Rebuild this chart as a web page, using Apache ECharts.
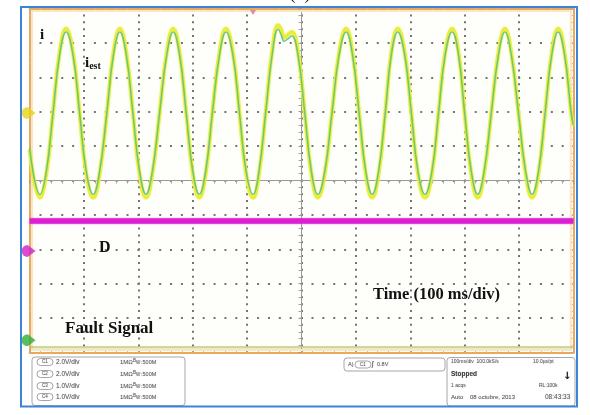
<!DOCTYPE html>
<html>
<head>
<meta charset="utf-8">
<script src="https://cdn.jsdelivr.net/npm/echarts/dist/echarts.min.js"></script>
<style>
  html, body { margin: 0; padding: 0; background: #ffffff; }
  #chart { width: 590px; height: 415px; }
</style>
</head>
<body>
<div id="chart"></div>
<script>
// Oscilloscope capture: measured current i, estimated current i_est,
// D signal and fault signal. Time in ms (trigger at 0), amplitude in divisions.

// Sample times of the current traces (ms)
const timeMs = [
  -500, -481, -469, -457, -445, -433, -420, -408, -396, -383,
  -371, -358, -346, -334, -322, -310, -298, -286, -274, -261,
  -248, -236, -224, -212, -200, -188, -176, -164, -151, -139,
  -126, -114, -102, -89, -78, -66, -54, -43, -37, -32,
  -25, -18, -6, 6, 18, 30, 43, 56, 69, 82,
  94, 106, 118, 130, 142, 154, 165, 177, 190, 202,
  214, 227, 240, 252, 264, 277, 289, 300, 312, 324,
  336, 349, 362, 374, 386, 399, 412, 424, 436, 448,
  460, 472, 484, 496, 500
];

// Measured current i (divisions)
const iValues = [
  0.90, -0.50, 0.22, 1.96, 3.70, 4.42, 3.70, 1.96, 0.22, -0.50,
  0.22, 1.96, 3.70, 4.42, 3.70, 1.96, 0.22, -0.50, 0.22, 1.96,
  3.70, 4.42, 3.70, 1.96, 0.22, -0.50, 0.22, 1.96, 3.70, 4.42,
  3.70, 1.96, 0.22, -0.50, 0.22, 1.96, 3.75, 4.52, 4.38, 4.15,
  4.24, 4.32, 3.68, 1.96, 0.22, -0.50, 0.22, 1.96, 3.70, 4.42,
  3.70, 1.96, 0.22, -0.50, 0.22, 1.96, 3.70, 4.42, 3.70, 1.96,
  0.22, -0.50, 0.22, 1.96, 3.70, 4.42, 3.70, 1.96, 0.22, -0.50,
  0.22, 1.96, 3.70, 4.42, 3.70, 1.96, 0.22, -0.50, 0.22, 1.96,
  3.70, 4.42, 3.70, 1.96, 1.60
];

// Estimated current i_est (divisions)
const iEstValues = [
  0.95, -0.40, 0.29, 1.96, 3.63, 4.32, 3.63, 1.96, 0.29, -0.40,
  0.29, 1.96, 3.63, 4.32, 3.63, 1.96, 0.29, -0.40, 0.29, 1.96,
  3.63, 4.32, 3.63, 1.96, 0.29, -0.40, 0.29, 1.96, 3.63, 4.32,
  3.63, 1.96, 0.29, -0.40, 0.29, 1.96, 3.65, 4.40, 4.22, 4.05,
  4.12, 4.20, 3.60, 1.96, 0.29, -0.40, 0.29, 1.96, 3.63, 4.32,
  3.63, 1.96, 0.29, -0.40, 0.29, 1.96, 3.63, 4.32, 3.63, 1.96,
  0.29, -0.40, 0.29, 1.96, 3.63, 4.32, 3.63, 1.96, 0.29, -0.40,
  0.29, 1.96, 3.63, 4.32, 3.63, 1.96, 0.29, -0.40, 0.29, 1.96,
  3.63, 4.32, 3.63, 1.96, 1.62
];

// Flat traces: D signal and fault signal
const flatTimeMs = [-500, 500];
const dValues = [-1.18, -1.18];
const faultValues = [-4.85, -4.85];

// Channel ground-reference markers on the left edge
const markerLevels = [1.96, -2.05, -4.65];
const markerColors = ['#e9d21c', '#d21fc8', '#2eae36'];

// Channel setup readouts
const chanNames = ['C1', 'C2', 'C3', 'C4'];
const chanScales = ['2.0V/div', '2.0V/div', '1.0V/div', '1.0V/div'];

const pairs = (xs, ys) => xs.map((x, k) => [x, ys[k]]);

const G = { left: 29.6, top: 8.6, width: 543.8, height: 343.8 };
const frameColor = '#eba858';

const chart = echarts.init(document.getElementById('chart'), null, { renderer: 'canvas' });

function frameAxis(pos, isX) {
  const base = {
    gridIndex: 1, type: 'value', position: pos,
    axisLine: { show: true, onZero: false, lineStyle: { color: frameColor, width: 2 } },
    axisTick: { show: true, inside: true, length: 3.5, lineStyle: { color: '#b9b09c', width: 1 } },
    minorTick: { show: true, splitNumber: 5, length: 2.5, lineStyle: { color: '#c8c0ac', width: 1 } },
    axisLabel: { show: false }, splitLine: { show: false }
  };
  if (isX) { base.min = -500; base.max = 500; base.interval = 100; }
  else { base.min = -5; base.max = 5; base.interval = 1; }
  return base;
}

// Bottom readout panel
const panel = [];
const txt = (x, y, s, size, extra) => ({
  type: 'text', x: x, y: y, z: 20,
  style: Object.assign({ text: s, fill: '#5a5a5a', font: size + 'px "Liberation Sans", Arial, sans-serif',
    verticalAlign: 'middle', align: 'left', textShadowColor: 'rgba(120,120,120,0.5)', textShadowBlur: 1 }, extra || {})
});
const box = (x, y, w, h, r) => ({
  type: 'rect', z: 19, shape: { x: x, y: y, width: w, height: h, r: r },
  style: { fill: '#ffffff', stroke: '#a6a6a6', lineWidth: 1 }
});
const pill = (x, y, label) => [
  { type: 'rect', z: 20, shape: { x: x, y: y - 3.5, width: 16, height: 7, r: 3.5 },
    style: { fill: '#ffffff', stroke: '#8d8d8d', lineWidth: 0.8 } },
  txt(x + 8, y, label, 4.5, { align: 'center' })
];

panel.push(box(32, 357, 153, 48.5, 3));
const rowY = [362, 374, 386, 397];
chanNames.forEach((c, k) => {
  panel.push(...pill(37, rowY[k], c));
  panel.push(txt(56, rowY[k], chanScales[k], 6.5));
  panel.push(txt(120, rowY[k], '1MΩ', 6));
  panel.push(txt(133, rowY[k] - 1, 'B', 4.5));
  panel.push(txt(136, rowY[k] + 1, 'W', 4.5));
  panel.push(txt(141, rowY[k], ':500M', 5.5));
});

panel.push(box(344, 358, 101, 13, 3));
panel.push(txt(348, 364.5, 'A)', 5.5));
panel.push(...pill(355, 364.5, 'C1'));
panel.push(txt(372, 364.5, '∫', 7, { fill: '#444' }));
panel.push(txt(377, 364.5, '0.8V', 5.5));

panel.push(box(447, 357.5, 128, 48.5, 3));
panel.push(txt(451, 362, '100ms/div  100.0kS/s', 5));
panel.push(txt(533, 362, '10.0µs/pt', 5));
panel.push(txt(451, 374, 'Stopped', 6.5, { fill: '#3a3a3a', font: 'bold 6.5px "Liberation Sans", Arial, sans-serif' }));
panel.push(txt(563, 376, '↓', 10, { fill: '#222', font: 'bold 10px "DejaVu Sans", sans-serif' }));
panel.push(txt(451, 386, '1 acqs', 5));
panel.push(txt(539, 386, 'RL:100k', 5));
panel.push(txt(451, 397.5, 'Auto    08 octubre, 2013', 6));
panel.push(txt(545, 397.5, '08:43:33', 6.5));

const serif = '"Liberation Serif", "Times New Roman", serif';

const option = {
  animation: false,
  backgroundColor: '#ffffff',
  grid: [
    Object.assign({ show: true, backgroundColor: '#fefefb', borderWidth: 0 }, G),
    Object.assign({ show: false }, G)
  ],
  xAxis: [
    {
      gridIndex: 0, type: 'value', min: -500, max: 500, interval: 100,
      axisLine: { show: true, onZero: true, lineStyle: { color: '#999999', width: 1 } },
      axisTick: { show: true, length: 3, lineStyle: { color: '#999999' } },
      minorTick: { show: true, splitNumber: 5, length: 3, lineStyle: { color: '#a4a4a4' } },
      axisLabel: { show: false },
      splitLine: { show: true, lineStyle: { color: '#747474', width: 2, type: [2, 4.875], dashOffset: 1 } }
    },
    frameAxis('bottom', true),
    frameAxis('top', true)
  ],
  yAxis: [
    {
      gridIndex: 0, type: 'value', min: -5, max: 5, interval: 1,
      axisLine: { show: true, onZero: true, lineStyle: { color: '#999999', width: 1 } },
      axisTick: { show: true, length: 3, lineStyle: { color: '#999999' } },
      minorTick: { show: true, splitNumber: 5, length: 3, lineStyle: { color: '#a4a4a4' } },
      axisLabel: { show: false },
      splitLine: { show: true, lineStyle: { color: '#747474', width: 2, type: [2, 8.88], dashOffset: 1 } }
    },
    frameAxis('left', false),
    frameAxis('right', false)
  ],
  series: [
    {
      name: 'Fault Signal', type: 'line', xAxisIndex: 0, yAxisIndex: 0,
      data: pairs(flatTimeMs, faultValues), showSymbol: false,
      lineStyle: { color: 'rgba(185,200,110,0.7)', width: 2.5 }, z: 3
    },
    {
      name: 'D', type: 'line', xAxisIndex: 0, yAxisIndex: 0,
      data: pairs(flatTimeMs, dValues), showSymbol: false,
      lineStyle: { color: '#dc1fd2', width: 5.5, shadowColor: 'rgba(220,40,210,0.6)', shadowBlur: 2 }, z: 3
    },
    {
      name: 'i', type: 'line', xAxisIndex: 0, yAxisIndex: 0,
      data: pairs(timeMs, iValues), showSymbol: false, smooth: 0.45,
      lineStyle: { color: 'rgba(232,236,52,0.95)', width: 3.8, shadowColor: 'rgba(240,240,80,0.6)', shadowBlur: 2 }, z: 4
    },
    {
      name: 'i_est', type: 'line', xAxisIndex: 0, yAxisIndex: 0,
      data: pairs(timeMs, iEstValues), showSymbol: false, smooth: 0.45,
      lineStyle: { color: 'rgba(72,188,150,0.8)', width: 1.5 }, z: 5
    },
    {
      name: 'markers', type: 'scatter', xAxisIndex: 0, yAxisIndex: 0, clip: false,
      symbol: 'path://M6,0 A6,6 0 1,0 6,12 L10,9 L14,6 L10,3 Z',
      symbolSize: [14, 12], symbolOffset: [-1, 0], z: 10,
      data: markerLevels.map((v, k) => ({ value: [-500, v], itemStyle: { color: markerColors[k] } }))
    }
  ],
  graphic: [
    // outer blue window frame
    { type: 'rect', z: 30, shape: { x: 21, y: 7, width: 556, height: 399.5 },
      style: { fill: 'none', stroke: '#3b84d6', lineWidth: 2 } },
    // pale inner band of the graticule frame
    { type: 'rect', z: 1, shape: { x: G.left + 2.5, y: G.top + 2.5, width: G.width - 5, height: G.height - 5 },
      style: { fill: 'none', stroke: '#f8e6c4', lineWidth: 2 } },
    // trigger position marker
    { type: 'polygon', z: 12, shape: { points: [[250, 10], [256, 10], [253, 15]] },
      style: { fill: '#e48aa0' } },
    // figure tag, cut by the top edge
    { type: 'text', x: 300, y: 3, z: 20,
      style: { text: '(1)', font: '18px ' + serif, fill: '#111', align: 'center', verticalAlign: 'bottom' } },
    { type: 'text', x: 40, y: 35, z: 20,
      style: { text: 'i', font: 'bold 15px ' + serif, fill: '#111', verticalAlign: 'middle' } },
    { type: 'text', x: 85, y: 63, z: 20,
      style: { text: '{a|i}{b|est}', fill: '#111', verticalAlign: 'middle',
        rich: { a: { font: 'bold 15px ' + serif, fill: '#111' },
                b: { font: 'bold 10px ' + serif, fill: '#111', padding: [7, 0, 0, 0] } } } },
    { type: 'text', x: 99, y: 248, z: 20,
      style: { text: 'D', font: 'bold 16px ' + serif, fill: '#111', verticalAlign: 'middle' } },
    { type: 'text', x: 373, y: 295, z: 20,
      style: { text: 'Time (100 ms/div)', font: 'bold 16.5px ' + serif, fill: '#111', verticalAlign: 'middle' } },
    { type: 'text', x: 65, y: 329, z: 20,
      style: { text: 'Fault Signal', font: 'bold 17px ' + serif, fill: '#111', verticalAlign: 'middle' } }
  ].concat(panel)
};

chart.setOption(option);
</script>
</body>
</html>
